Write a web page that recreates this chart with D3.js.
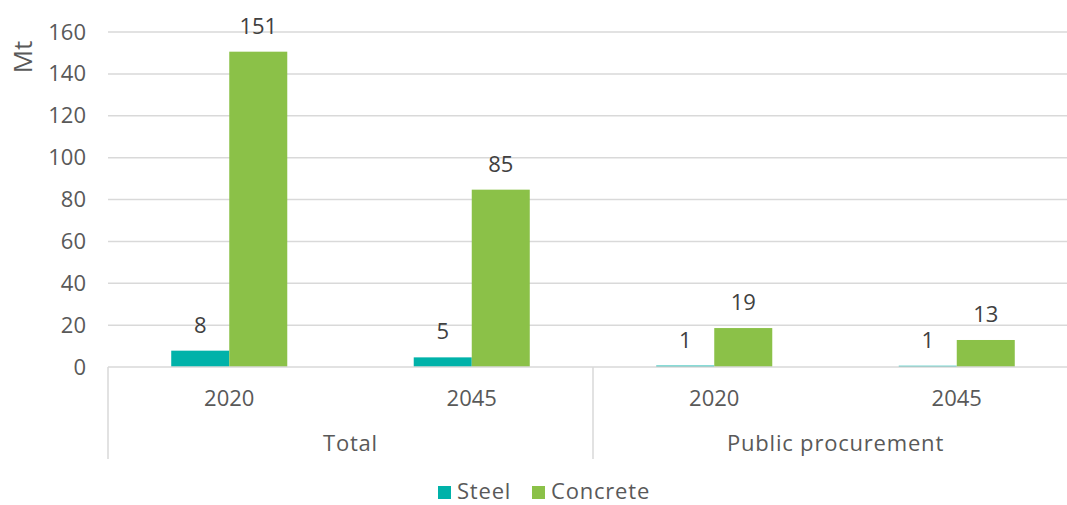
<!DOCTYPE html>
<html>
<head>
<meta charset="utf-8">
<script src="https://cdn.jsdelivr.net/npm/d3@7"></script>
<style>
  html, body { margin: 0; padding: 0; background: #fff; }
  svg { display: block; font-family: "Open Sans", "Noto Sans", sans-serif; }
</style>
</head>
<body>
<svg id="chart" width="1067" height="505"></svg>
<script>
// Material demand (Mt) by scope and year
const groups = ["Total", "Public procurement"];
const years = ["2020", "2045"];
const seriesNames = ["Steel", "Concrete"];
const steelValues = [7.8, 4.6, 0.7, 0.6];
const concreteValues = [150.6, 84.7, 18.6, 12.9];
const yTicks = [0, 20, 40, 60, 80, 100, 120, 140, 160];

const colors = { Steel: "#00B2A9", Concrete: "#8BC148" };
const fontSize = 22;

const svg = d3.select("#chart");
const margin = { left: 108, right: 1078, top: 32, bottom: 367 };

// one slot per group/year pair
const slots = [];
groups.forEach(g => years.forEach(y => slots.push({ group: g, year: y })));
slots.forEach((s, i) => { s.Steel = steelValues[i]; s.Concrete = concreteValues[i]; s.key = s.group + "|" + s.year; });

const x = d3.scaleBand().domain(slots.map(s => s.key)).range([margin.left, margin.right]);
const xInner = d3.scaleBand().domain(seriesNames).range([0, x.bandwidth()]).paddingInner(0).paddingOuter(1.09);
const y = d3.scaleLinear().domain([0, 160]).range([margin.bottom, margin.top]);

// gridlines
svg.append("g").selectAll("line").data(yTicks.filter(t => t > 0)).join("line")
  .attr("x1", margin.left).attr("x2", 1067)
  .attr("y1", d => y(d)).attr("y2", d => y(d))
  .attr("stroke", "#d9d9d9").attr("stroke-width", 1.5);

// y axis labels
const yAxis = d3.axisLeft(y).tickValues(yTicks).tickSize(0).tickPadding(0);
const yg = svg.append("g").attr("transform", `translate(86,0)`).call(yAxis);
yg.select(".domain").remove();
yg.selectAll("text").attr("font-size", fontSize).attr("fill", "#595959")
  .attr("font-family", "\"Open Sans\", \"Noto Sans\", sans-serif");

svg.append("text")
  .attr("transform", `translate(32,57) rotate(-90)`)
  .attr("text-anchor", "middle")
  .attr("font-size", 26).attr("fill", "#595959").text("Mt");

// bars
const slotG = svg.append("g").selectAll("g").data(slots).join("g")
  .attr("transform", d => `translate(${x(d.key)},0)`);

slotG.selectAll("rect").data(d => seriesNames.map(n => ({ name: n, value: d[n] }))).join("rect")
  .attr("x", d => xInner(d.name))
  .attr("width", xInner.bandwidth())
  .attr("y", d => y(d.value))
  .attr("height", d => y(0) - y(d.value))
  .attr("fill", d => colors[d.name]);

// value labels
slotG.selectAll("text").data(d => seriesNames.map(n => ({ name: n, value: d[n] }))).join("text")
  .attr("x", d => xInner(d.name) + xInner.bandwidth() / 2)
  .attr("y", d => y(d.value) - 18)
  .attr("text-anchor", "middle")
  .attr("font-size", fontSize).attr("fill", "#404040")
  .text(d => d3.format(".0f")(d.value));

// baseline
svg.append("line")
  .attr("x1", margin.left).attr("x2", 1067)
  .attr("y1", y(0)).attr("y2", y(0))
  .attr("stroke", "#d9d9d9").attr("stroke-width", 1.5);

// category separators
const groupWidth = x.bandwidth() * years.length;
const sepXs = d3.range(groups.length + 1).map(i => margin.left + i * groupWidth);
svg.append("g").selectAll("line").data(sepXs).join("line")
  .attr("x1", d => d).attr("x2", d => d)
  .attr("y1", y(0)).attr("y2", 459)
  .attr("stroke", "#d9d9d9").attr("stroke-width", 1.5);

// year labels
svg.append("g").selectAll("text").data(slots).join("text")
  .attr("x", d => x(d.key) + x.bandwidth() / 2)
  .attr("y", 406)
  .attr("text-anchor", "middle")
  .attr("font-size", fontSize).attr("fill", "#595959")
  .text(d => d.year);

// group labels
svg.append("g").selectAll("text").data(groups).join("text")
  .attr("x", (d, i) => margin.left + (i + 0.5) * groupWidth)
  .attr("y", 451)
  .attr("text-anchor", "middle")
  .attr("font-size", fontSize).attr("letter-spacing", 0.8).attr("fill", "#595959")
  .text(d => d);

// legend
const legend = svg.append("g");
const legendItems = [{ name: "Steel", x: 438 }, { name: "Concrete", x: 532 }];
legendItems.forEach(item => {
  legend.append("rect").attr("x", item.x).attr("y", 486).attr("width", 13).attr("height", 13)
    .attr("fill", colors[item.name]);
  legend.append("text").attr("x", item.x + 19).attr("y", 499)
    .attr("font-size", fontSize).attr("letter-spacing", 0.8).attr("fill", "#595959").text(item.name);
});
</script>
</body>
</html>
